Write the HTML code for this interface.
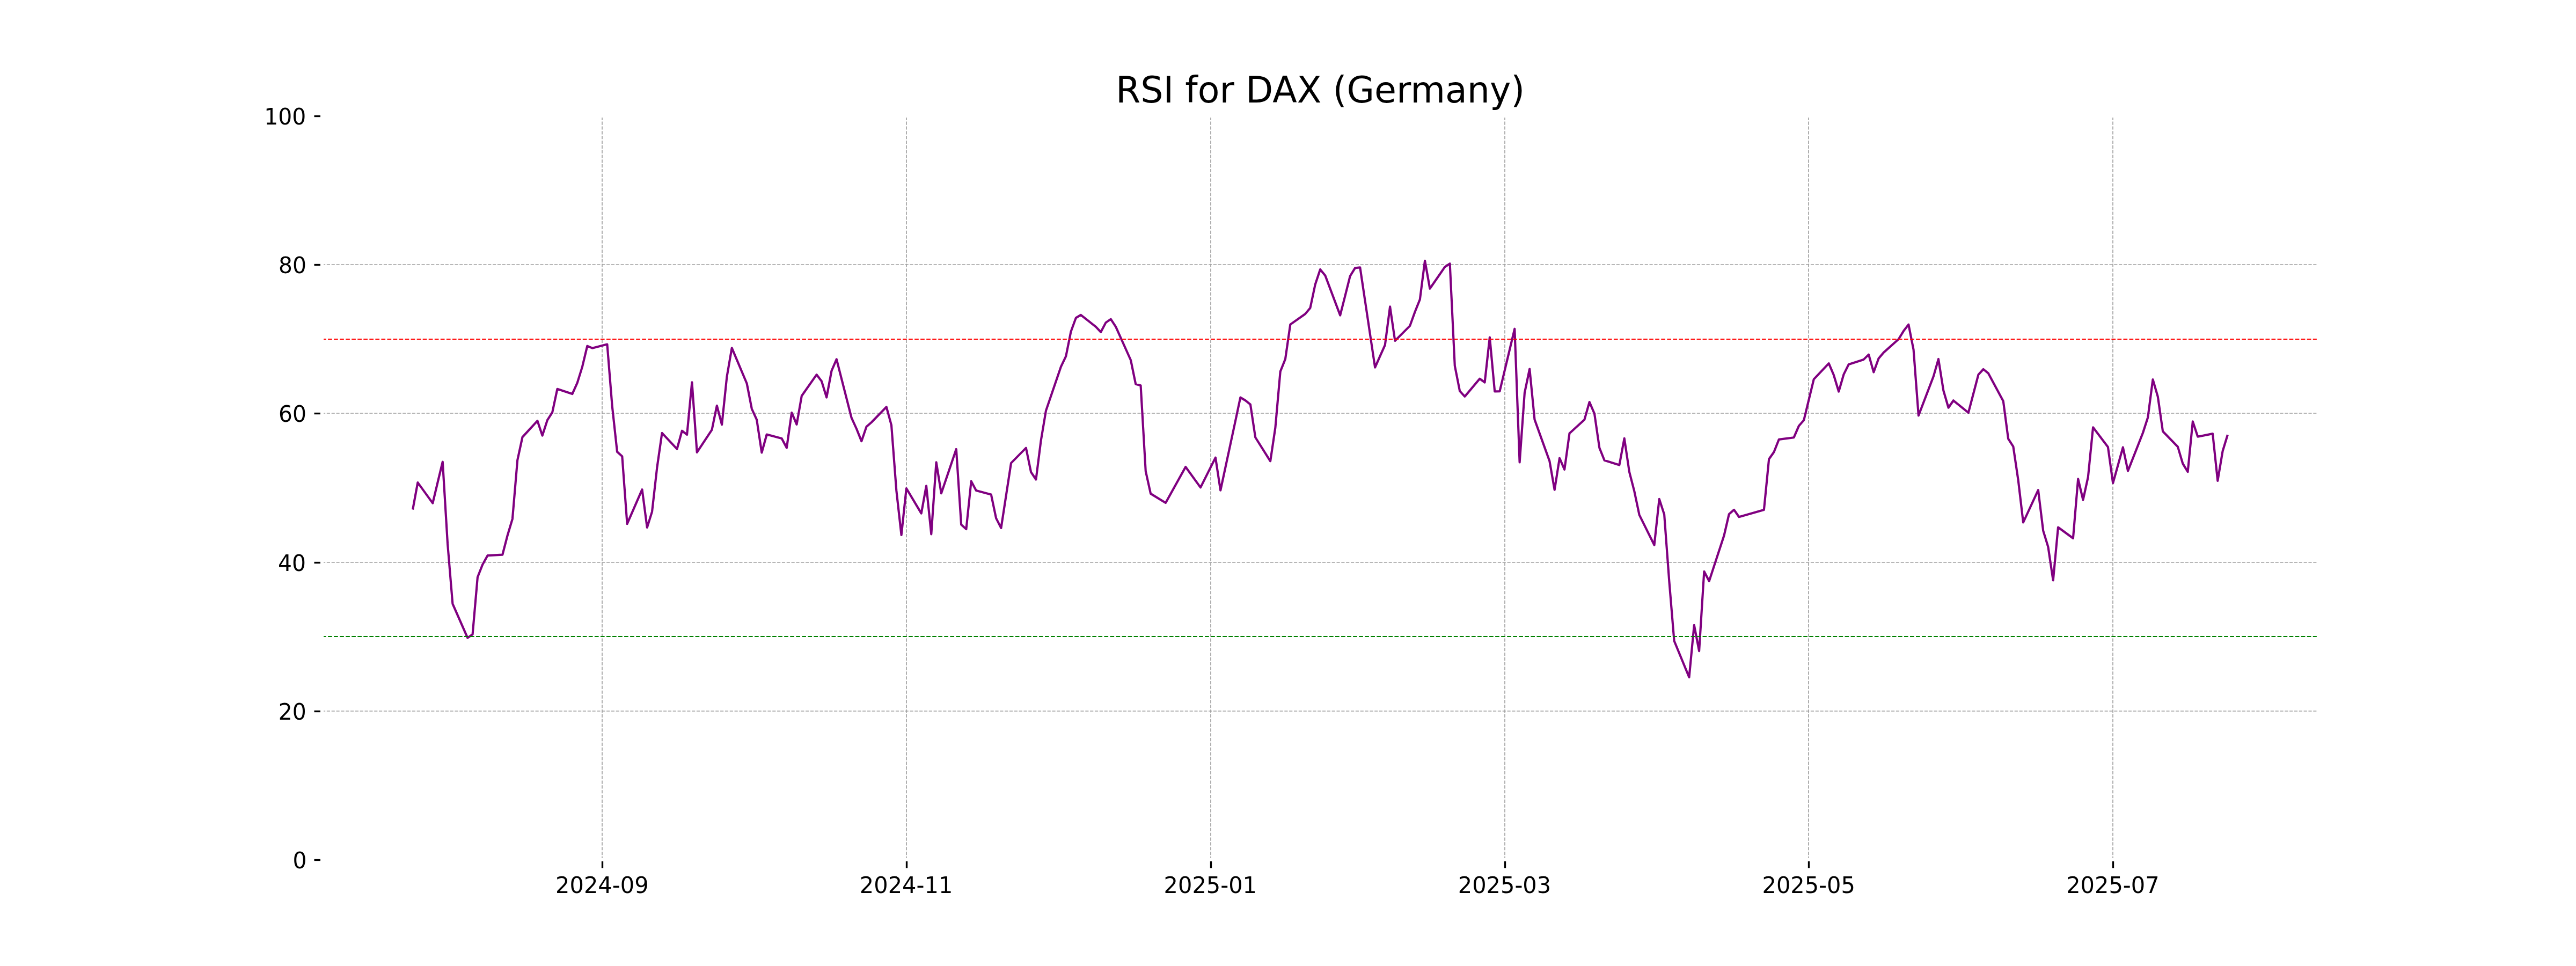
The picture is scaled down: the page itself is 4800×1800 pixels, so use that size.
<!DOCTYPE html>
<html><head><meta charset="utf-8"><title>RSI for DAX (Germany)</title>
<style>
html,body{margin:0;padding:0;background:#fff;}
svg{display:block;will-change:transform;}
text{font-family:"DejaVu Sans","Liberation Sans",sans-serif;fill:#000;}
</style></head><body>
<svg width="4800" height="1800" viewBox="0 0 4800 1800">
<rect width="4800" height="1800" fill="#fff"/>

<g stroke="#a0a0a0" stroke-width="1.667" stroke-dasharray="6.167 2.667" fill="none">
<path d="M1122 1602V216"/>
<path d="M1689 1602V216"/>
<path d="M2256 1602V216"/>
<path d="M2804 1602V216"/>
<path d="M3370 1602V216"/>
<path d="M3937 1602V216"/>
<path d="M600 1602H4320"/>
<path d="M600 1325H4320"/>
<path d="M600 1048H4320"/>
<path d="M600 770H4320"/>
<path d="M600 493H4320"/>
<path d="M600 216H4320"/>
</g>
<polyline points="769.1,949.5 778.4,899.1 806.3,937.6 815.5,899.0 824.8,860.5 834.1,1014.0 843.4,1125.2 871.3,1188.6 880.6,1182.0 889.9,1075.5 899.2,1051.9 908.5,1035.2 936.3,1033.6 945.6,997.9 954.9,966.8 964.2,857.4 973.5,814.5 1001.4,784.1 1010.6,811.7 1019.9,782.9 1029.2,768.3 1038.5,724.8 1066.4,734.1 1075.7,713.3 1085.0,683.5 1094.3,644.7 1103.6,648.7 1131.4,641.6 1140.7,756.5 1150.0,841.9 1159.3,850.2 1168.6,976.1 1196.5,912.1 1205.8,983.0 1215.0,953.5 1224.3,871.4 1233.6,806.8 1261.5,836.6 1270.8,802.7 1280.1,809.9 1289.4,712.4 1298.7,842.8 1326.5,800.9 1335.8,755.8 1345.1,791.2 1354.4,702.1 1363.7,648.4 1391.6,714.5 1400.9,762.0 1410.1,782.2 1419.4,843.4 1428.7,809.6 1456.6,817.0 1465.9,834.4 1475.2,768.9 1484.5,790.9 1493.8,737.8 1521.6,698.1 1530.9,710.2 1540.2,740.5 1549.5,691.0 1558.8,669.4 1586.7,778.7 1596.0,799.0 1605.3,822.1 1614.5,795.1 1623.8,787.0 1651.7,758.2 1661.0,792.3 1670.3,914.0 1679.6,997.0 1688.9,910.0 1716.7,956.6 1726.0,905.3 1735.3,995.4 1744.6,861.4 1753.9,919.3 1781.8,836.9 1791.1,977.4 1800.4,986.1 1809.7,896.6 1818.9,914.0 1846.8,921.5 1856.1,965.6 1865.4,983.9 1874.7,923.4 1884.0,862.9 1911.8,834.6 1921.1,879.6 1930.4,893.5 1939.7,820.6 1949.0,765.2 1976.9,683.4 1986.2,663.9 1995.5,617.9 2004.8,592.4 2014.0,586.8 2041.9,608.9 2051.2,618.8 2060.5,601.1 2069.8,594.6 2079.1,608.9 2107.0,671.0 2116.2,715.7 2125.5,718.2 2134.8,878.0 2144.1,919.9 2172.0,937.0 2209.2,870.0 2237.0,908.4 2264.9,852.6 2274.2,913.7 2302.1,783.9 2311.3,740.6 2320.6,746.1 2329.9,753.6 2339.2,815.0 2367.1,859.3 2376.4,796.9 2385.7,692.2 2395.0,668.9 2404.3,604.6 2432.1,585.0 2441.4,573.9 2450.7,530.1 2460.0,502.1 2469.3,513.3 2497.2,587.5 2506.5,551.0 2515.7,514.5 2525.0,499.3 2534.3,498.4 2562.2,684.7 2571.5,663.6 2580.8,642.8 2590.1,571.4 2599.4,635.0 2627.2,607.1 2636.5,581.3 2645.8,558.0 2655.1,485.8 2664.4,537.8 2692.3,497.4 2701.6,491.2 2710.8,681.6 2720.1,728.7 2729.4,738.8 2757.3,705.7 2766.6,712.5 2775.9,628.5 2785.2,729.4 2794.5,729.1 2822.3,612.7 2831.6,861.5 2840.9,732.0 2850.2,687.5 2859.5,781.7 2887.4,859.3 2896.7,912.7 2906.0,853.7 2915.2,874.8 2924.5,807.5 2952.4,782.0 2961.7,749.1 2971.0,770.8 2980.3,834.5 2989.6,857.8 3017.4,866.5 3026.7,816.8 3036.0,879.2 3045.3,915.2 3054.6,959.3 3082.5,1015.7 3091.8,929.8 3101.1,958.7 3110.3,1082.5 3119.6,1194.3 3147.5,1262.0 3156.8,1164.8 3166.1,1213.2 3175.4,1064.8 3184.7,1082.8 3212.5,998.0 3221.8,958.0 3231.1,949.9 3240.4,963.2 3286.9,949.9 3296.2,855.5 3305.5,842.3 3314.7,818.9 3342.6,815.2 3351.9,793.7 3361.2,783.0 3379.8,706.6 3407.7,677.1 3416.9,698.8 3426.2,729.6 3435.5,697.6 3444.8,678.9 3472.7,669.9 3482.0,660.6 3491.3,693.5 3500.6,667.8 3509.9,656.9 3537.7,632.0 3547.0,616.8 3556.3,604.7 3565.6,651.6 3574.9,774.3 3602.8,701.3 3612.0,669.0 3621.3,727.7 3630.6,759.7 3639.9,746.3 3667.8,769.0 3677.1,733.6 3686.4,698.2 3695.7,688.0 3705.0,695.7 3732.8,747.6 3742.1,817.7 3751.4,832.1 3760.7,894.9 3770.0,973.5 3797.9,913.2 3807.2,989.0 3816.4,1019.1 3825.7,1081.5 3835.0,982.5 3862.9,1003.0 3872.2,892.3 3881.5,931.4 3890.8,889.0 3900.1,796.3 3927.9,833.1 3937.2,900.2 3946.5,866.9 3955.8,833.5 3965.1,877.6 3993.0,806.5 4002.3,777.6 4011.5,707.1 4020.8,739.1 4030.1,803.7 4058.0,832.5 4067.3,863.9 4076.6,879.1 4085.9,785.3 4095.2,813.7 4123.0,808.1 4132.3,895.9 4141.6,840.6 4150.9,810.2" fill="none" stroke="#800080" stroke-width="4.167" stroke-linejoin="round" stroke-linecap="butt"/>
<path d="M600 632H4320" stroke="#ff0000" stroke-width="2.083" stroke-dasharray="7.708 3.333" fill="none"/>
<path d="M600 1186H4320" stroke="#008000" stroke-width="2.083" stroke-dasharray="7.708 3.333" fill="none"/>
<rect x="600" y="216" width="3720" height="1386" fill="none" stroke="#fff" stroke-width="6.25"/>
<g stroke="#000" stroke-width="3.333" fill="none">
<path d="M1122.5 1605V1617.5"/>
<path d="M1689.5 1605V1617.5"/>
<path d="M2256.5 1605V1617.5"/>
<path d="M2804.5 1605V1617.5"/>
<path d="M3370.5 1605V1617.5"/>
<path d="M3937.5 1605V1617.5"/>
<path d="M585.5 1602.5H597"/>
<path d="M585.5 1325.5H597"/>
<path d="M585.5 1048.5H597"/>
<path d="M585.5 770.5H597"/>
<path d="M585.5 493.5H597"/>
<path d="M585.5 216.5H597"/>
</g>
<g font-size="41.67px">
<text transform="translate(1121.84 1664) scale(0.9966 1.036)" text-anchor="middle">2024-09</text>
<text transform="translate(1688.57 1664) scale(0.9966 1.036)" text-anchor="middle">2024-11</text>
<text transform="translate(2255.30 1664) scale(0.9966 1.036)" text-anchor="middle">2025-01</text>
<text transform="translate(2803.46 1664) scale(0.9966 1.036)" text-anchor="middle">2025-03</text>
<text transform="translate(3370.19 1664) scale(0.9966 1.036)" text-anchor="middle">2025-05</text>
<text transform="translate(3936.92 1664) scale(0.9966 1.036)" text-anchor="middle">2025-07</text>
<text transform="translate(571.40 1618) scale(0.981 1.036)" text-anchor="end">0</text>
<text transform="translate(570.80 1341) scale(0.981 1.036)" text-anchor="end">20</text>
<text transform="translate(570.05 1064) scale(0.981 1.036)" text-anchor="end">40</text>
<text transform="translate(570.90 786) scale(0.981 1.036)" text-anchor="end">60</text>
<text transform="translate(570.90 509) scale(0.981 1.036)" text-anchor="end">80</text>
<text transform="translate(570.35 232) scale(0.981 1.036)" text-anchor="end">100</text>
</g>
<text transform="translate(2460.2 190.6) scale(0.9985 1.012)" font-size="66.67px" text-anchor="middle">RSI for DAX (Germany)</text>
</svg></body></html>
